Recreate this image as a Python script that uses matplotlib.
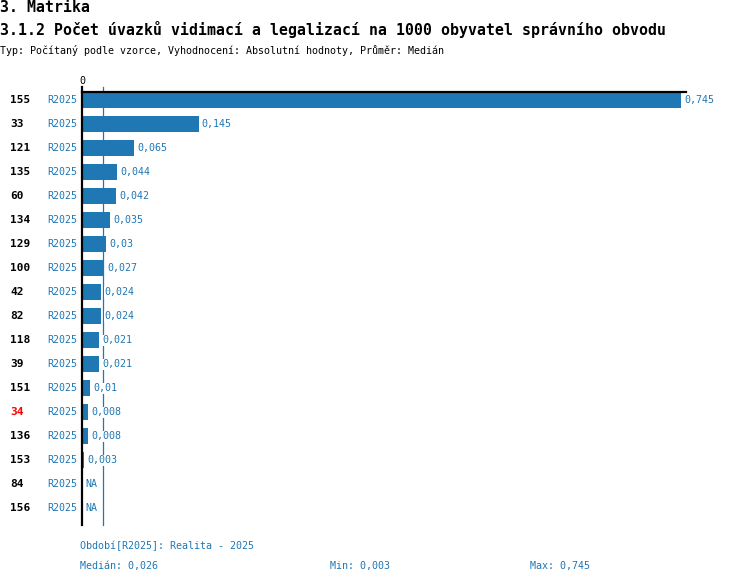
import matplotlib
matplotlib.use("Agg")
import matplotlib.pyplot as plt
import numpy as np

plt.rcParams['font.family'] = ['DejaVu Sans Mono', 'DejaVu Sans']

# ---- data ----
units = ["155", "33", "121", "135", "60", "134", "129", "100", "42", "82",
         "118", "39", "151", "34", "136", "153", "84", "156"]
period = "R2025"
values = [0.745, 0.145, 0.065, 0.044, 0.042, 0.035, 0.03, 0.027, 0.024, 0.024,
          0.021, 0.021, 0.01, 0.008, 0.008, 0.003, None, None]
highlight = "34"
median_val = 0.026
min_val = 0.003
max_val = 0.745

title = "3. Matrika"
subtitle = "3.1.2 Počet úvazků vidimací a legalizací na 1000 obyvatel správního obvodu"
typeline = "Typ: Počítaný podle vzorce, Vyhodnocení: Absolutní hodnoty, Průměr: Medián"
period_text = "Období[R2025]: Realita - 2025"

BLUE = "#1f77b4"
W, H = 750, 584

def fx(px):
    return px / W

def fy(py):
    return 1 - py / H

fig = plt.figure(figsize=(7.5, 5.84), dpi=100)
ax_left, ax_right, ax_top, ax_bot = 82, 681, 92, 525
ax = fig.add_axes([fx(ax_left), fy(ax_bot), (ax_right - ax_left) / W, (ax_bot - ax_top) / H])

n = len(units)
y = np.arange(n)
row_px = 24.0
first_row_px = 100.0
ax.set_ylim((ax_bot - first_row_px) / row_px, -(first_row_px - ax_top) / row_px)
ax.set_xlim(0, max_val)
for s in ax.spines.values():
    s.set_visible(False)
ax.set_xticks([])
ax.set_yticks([])

vals = np.array([np.nan if v is None else v for v in values], dtype=float)

# median line (behind bars)
ax.axvline(median_val, ymin=0, ymax=1 + 5 / (ax_bot - ax_top), color=BLUE,
           lw=0.9, zorder=1, clip_on=False)

ax.barh(y, np.nan_to_num(vals), height=16 / row_px, color=BLUE, zorder=2)

# axis lines
ax.axvline(0, ymin=0, ymax=1 + 5 / (ax_bot - ax_top), color="black", lw=1.6,
           zorder=4, clip_on=False)
ax.plot([0, 1 + 5 / (ax_right - ax_left)], [1, 1], transform=ax.transAxes,
        color="black", lw=1.6, zorder=4, clip_on=False)
ax.text(0, 1 + 11 / (ax_bot - ax_top), "0", transform=ax.get_xaxis_transform(),
        ha="center", va="center", fontsize=7.2, color="black")

ytrans = ax.get_yaxis_transform()
for i, (u, v) in enumerate(zip(units, vals)):
    ax.text((10 - ax_left) / (ax_right - ax_left), i, u, transform=ytrans,
            ha="left", va="center", fontsize=8, fontweight="bold",
            color="red" if u == highlight else "black")
    ax.text((47 - ax_left) / (ax_right - ax_left), i, period, transform=ytrans,
            ha="left", va="center", fontsize=7.2, color=BLUE)
    label = "NA" if np.isnan(v) else f"{v:g}".replace(".", ",")
    xv = 0 if np.isnan(v) else v
    ax.annotate(label, (xv, i), xytext=(2.3, 0), textcoords="offset points",
                ha="left", va="center", fontsize=7.2, color=BLUE, zorder=5,
                bbox=dict(boxstyle="square,pad=0.05", fc="white", ec="none"),
                annotation_clip=False)

fig.text(0, fy(8), title, ha="left", va="center", fontsize=10.7, fontweight="bold")
fig.text(0, fy(30), subtitle, ha="left", va="center", fontsize=10.7, fontweight="bold")
fig.text(0, fy(50), typeline, ha="left", va="center", fontsize=7.2)

fig.text(fx(80), fy(546), period_text, ha="left", va="center", fontsize=7.2, color=BLUE)
fig.text(fx(80), fy(566), "Medián: " + f"{median_val:g}".replace(".", ","),
         ha="left", va="center", fontsize=7.2, color=BLUE)
fig.text(fx(330), fy(566), "Min: " + f"{min_val:g}".replace(".", ","),
         ha="left", va="center", fontsize=7.2, color=BLUE)
fig.text(fx(530), fy(566), "Max: " + f"{max_val:g}".replace(".", ","),
         ha="left", va="center", fontsize=7.2, color=BLUE)

fig.savefig("out.png", dpi=100)
